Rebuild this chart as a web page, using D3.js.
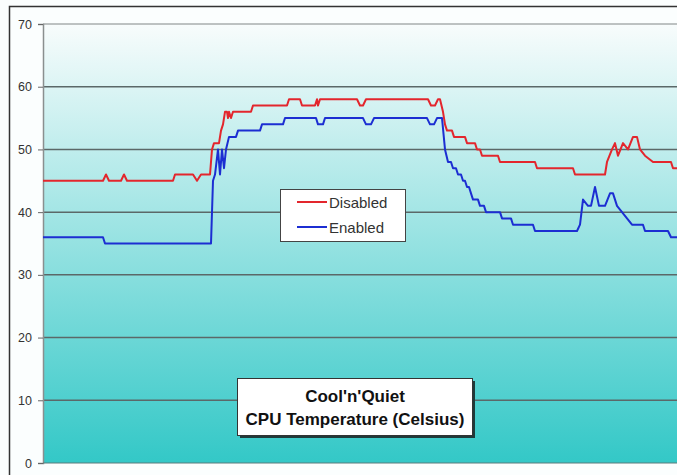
<!DOCTYPE html>
<html><head><meta charset="utf-8">
<script src="https://cdn.jsdelivr.net/npm/d3@7"></script>
<style>body{margin:0;background:#fbfefe;}svg{display:block;font-family:Arial,"Liberation Sans",sans-serif;}</style>
</head><body><svg id="c" width="677" height="475"></svg>
<script>
const yTicks = [0,10,20,30,40,50,60,70];
const seriesNames = ["Disabled","Enabled"];
const disabledT = [0,60,63,66,78,81,84,130,132,150,154,158,167,169,171,176,178,180,182,184,185,186,188,190,208,210,244,246,257,259,272,274,275,277,314,317,320,323,385,388,392,395,397,400,402,404,409,411,422,424,432,434,437,439,455,457,492,494,530,532,562,564,569,572,575,580,585,590,594,597,602,610,628,630,635];
const disabledV = [45,45,46,45,45,46,45,45,46,46,45,46,46,50,51,51,53,54,56,56,55,56,55,56,56,57,57,58,58,57,57,58,57,58,58,57,57,58,58,57,57,58,58,56,54,53,53,52,52,51,51,50,50,49,49,48,48,47,47,46,46,48,50,51,49,51,50,52,52,50,49,48,48,47,47];
const enabledT = [0,60,62,168,170,172,175,177,179,181,183,186,193,195,217,219,240,242,273,275,280,282,320,323,328,331,384,387,391,394,399,402,405,408,410,413,415,418,420,422,424,426,428,430,435,437,441,443,457,459,468,470,490,492,534,537,540,545,548,552,556,562,567,570,574,579,584,589,600,602,625,628,635];
const enabledV = [36,36,35,35,45,46,50,46,50,47,50,52,52,53,53,54,54,55,55,54,54,55,55,54,54,55,55,54,54,55,55,50,48,48,47,47,46,46,45,45,44,44,43,42,42,41,41,40,40,39,39,38,38,37,37,38,42,41,41,44,41,41,43,43,41,40,39,38,38,37,37,36,36];
const titleLines = ["Cool'n'Quiet","CPU Temperature (Celsius)"];

const svg = d3.select("#c");
const L=43, R=690, T=24, B=463;
const x = d3.scaleLinear().domain([0,635]).range([L,678]);
const y = d3.scaleLinear().domain([0,70]).range([B,T]);

const defs = svg.append("defs");
const g = defs.append("linearGradient").attr("id","bg").attr("x1",0).attr("y1",0).attr("x2",0).attr("y2",1);
g.append("stop").attr("offset","0%").attr("stop-color","#f8fcfc");
g.append("stop").attr("offset","100%").attr("stop-color","#33c8c7");

svg.append("rect").attr("x",9.5).attr("y",6.5).attr("width",700).attr("height",500).attr("fill","#fbfefe").attr("stroke","#333").attr("stroke-width",1.5);
svg.append("rect").attr("x",L).attr("y",T).attr("width",R-L).attr("height",B-T).attr("fill","url(#bg)");

svg.append("g").selectAll("line").data(yTicks.filter(d=>d>0)).join("line")
  .attr("x1",L).attr("x2",R).attr("y1",d=>y(d)).attr("y2",d=>y(d))
  .attr("stroke",d=>d===70?"#a8aeae":"#5b6868").attr("stroke-width",1.5);

const ax = svg.append("g").attr("transform",`translate(${L},0)`)
  .call(d3.axisLeft(y).tickValues(yTicks).tickSize(5).tickPadding(6));
ax.select(".domain").attr("stroke","#8a8f8f").attr("stroke-width",1.5);
ax.selectAll(".tick line").attr("stroke","#666");
ax.selectAll(".tick text").attr("fill","#333").attr("font-size",12.5).attr("font-family","Arial, Liberation Sans, sans-serif");
svg.append("line").attr("x1",L).attr("x2",R).attr("y1",B).attr("y2",B).attr("stroke","#5b7a7a").attr("stroke-width",1);

const line = d3.line().x(d=>x(d[0])).y(d=>y(d[1]));
const dis = disabledT.map((t,i)=>[t,disabledV[i]]);
const en = enabledT.map((t,i)=>[t,enabledV[i]]);
svg.append("path").datum(dis).attr("d",line).attr("fill","none").attr("stroke","#e3262d").attr("stroke-width",2).attr("stroke-linejoin","round");
svg.append("path").datum(en).attr("d",line).attr("fill","none").attr("stroke","#1c2ed2").attr("stroke-width",2).attr("stroke-linejoin","round");

const lg = svg.append("g");
lg.append("rect").attr("x",280.5).attr("y",189.5).attr("width",125).attr("height",52).attr("fill","#fff").attr("stroke","#444").attr("stroke-width",1);
const colors=["#e3262d","#1c2ed2"];
seriesNames.forEach((n,i)=>{
  const yy = 202 + i*25;
  lg.append("line").attr("x1",297).attr("x2",327).attr("y1",yy).attr("y2",yy).attr("stroke",colors[i]).attr("stroke-width",2);
  lg.append("text").attr("x",329).attr("y",yy+5.5).attr("font-size",15).attr("fill","#333").text(n);
});

const tb = svg.append("g");
tb.append("rect").attr("x",240).attr("y",381).attr("width",235).attr("height",57).attr("fill","#1f3a3a");
tb.append("rect").attr("x",237.5).attr("y",378.5).attr("width",235).attr("height",57).attr("fill","#fff").attr("stroke","#333").attr("stroke-width",1);
titleLines.forEach((t,i)=>{
  tb.append("text").attr("x",355).attr("y",402+i*23).attr("text-anchor","middle").attr("font-size",17).attr("font-weight","bold").attr("fill","#111").text(t);
});
</script></body></html>
